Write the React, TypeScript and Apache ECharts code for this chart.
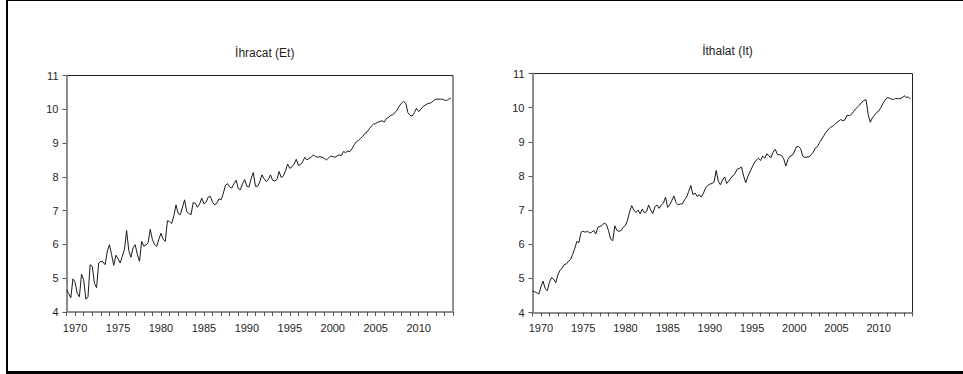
import React, { useEffect, useRef } from "react";
import * as echarts from "echarts";

// Quarterly series, 1969Q1 – 2013Q4 (log levels)
const START_YEAR = 1969;

const exportsEt = [
  4.66, 4.55, 4.42, 4.98,
  4.88, 4.55, 4.45, 5.12,
  4.95, 4.38, 4.45, 5.40,
  5.35, 4.85, 4.72, 5.45,
  5.50, 5.48, 5.40, 5.80,
  5.99, 5.70, 5.38, 5.68,
  5.58, 5.45, 5.65, 5.85,
  6.41, 5.82, 5.62, 5.90,
  5.99, 5.70, 5.50, 6.09,
  5.95, 5.98, 6.05, 6.45,
  6.15, 6.00, 5.94, 6.15,
  6.33, 6.15, 6.09, 6.70,
  6.68, 6.62, 6.85, 7.17,
  6.92, 6.88, 7.10, 7.32,
  6.97, 6.92, 6.88, 7.24,
  7.22, 7.10, 7.20, 7.37,
  7.20, 7.25, 7.40, 7.42,
  7.25, 7.17, 7.22, 7.35,
  7.32, 7.50, 7.75, 7.80,
  7.70, 7.67, 7.80, 7.90,
  7.65, 7.62, 7.80, 7.92,
  7.72, 7.70, 7.95, 8.13,
  7.72, 7.72, 7.85, 8.06,
  7.95, 7.86, 7.92, 8.06,
  7.90, 7.88, 7.92, 8.16,
  7.98, 8.03, 8.18, 8.38,
  8.25, 8.30, 8.38, 8.52,
  8.34, 8.36, 8.45, 8.58,
  8.50, 8.55, 8.58, 8.65,
  8.60, 8.58, 8.60, 8.58,
  8.55, 8.50, 8.55, 8.62,
  8.60, 8.58, 8.62, 8.65,
  8.63, 8.75, 8.72, 8.76,
  8.75, 8.84, 8.95, 9.04,
  9.08, 9.14, 9.20, 9.29,
  9.33, 9.42, 9.50, 9.56,
  9.58, 9.62, 9.64, 9.66,
  9.62, 9.73, 9.76, 9.82,
  9.84, 9.90, 9.98, 10.10,
  10.18, 10.23, 10.18, 9.90,
  9.82, 9.80, 9.90, 10.03,
  9.93, 10.00, 10.08, 10.12,
  10.16, 10.18, 10.20, 10.26,
  10.30, 10.30, 10.30, 10.30,
  10.27, 10.26, 10.30, 10.33,
];

const importsIt = [
  4.63, 4.61, 4.58, 4.54,
  4.75, 4.92, 4.70, 4.64,
  4.88, 5.02, 4.98, 4.87,
  5.10, 5.23, 5.30, 5.40,
  5.42, 5.50, 5.55, 5.70,
  5.87, 6.08, 6.05, 6.35,
  6.38, 6.35, 6.38, 6.33,
  6.35, 6.40, 6.30, 6.50,
  6.52, 6.55, 6.62, 6.58,
  6.40, 6.15, 6.10, 6.54,
  6.40, 6.38, 6.40, 6.50,
  6.55, 6.70, 6.95, 7.13,
  7.00, 6.93, 7.00, 6.89,
  7.03, 6.92, 6.95, 7.15,
  7.00, 6.90, 7.10, 7.15,
  7.05, 7.15, 7.20, 7.38,
  7.08, 7.15, 7.28, 7.41,
  7.22, 7.15, 7.18, 7.18,
  7.30, 7.38, 7.55, 7.72,
  7.45, 7.50, 7.40, 7.45,
  7.38, 7.50, 7.65, 7.72,
  7.76, 7.78, 7.82, 8.16,
  7.85, 7.74, 7.88, 7.97,
  7.78, 7.85, 7.95, 8.00,
  8.08, 8.20, 8.22, 8.26,
  8.00, 7.80, 7.98, 8.12,
  8.25, 8.38, 8.46, 8.52,
  8.45, 8.58, 8.52, 8.65,
  8.58, 8.54, 8.70, 8.78,
  8.63, 8.62, 8.60, 8.50,
  8.29, 8.48, 8.58, 8.60,
  8.70, 8.85, 8.86, 8.80,
  8.58, 8.54, 8.55, 8.56,
  8.62, 8.70, 8.82, 8.86,
  8.98, 9.08, 9.18, 9.28,
  9.35, 9.42, 9.45, 9.50,
  9.56, 9.60, 9.65, 9.62,
  9.64, 9.78, 9.76, 9.80,
  9.88, 9.96, 10.02, 10.08,
  10.16, 10.21, 10.23, 9.80,
  9.57, 9.70, 9.78, 9.86,
  9.90, 10.00, 10.12, 10.22,
  10.30, 10.28, 10.25, 10.24,
  10.27, 10.26, 10.27, 10.28,
  10.35, 10.30, 10.31, 10.26,
];

const titles = ["İhracat (Et)", "İthalat (It)"];
const yRange = { min: 4, max: 11, interval: 1 };
const xRange = { min: 1969, max: 2014, interval: 1, labelEvery: 5 };

const toPoints = (vals: number[]) =>
  vals.map((v, i) => [START_YEAR + i / 4, v]);

const FONT = "Liberation Sans, Arial, sans-serif";
const AXIS_GRAY = "#8d8d8d";
const TEXT = "#1e1e1e";

export default function App() {
  const ref = useRef<HTMLDivElement>(null);

  useEffect(() => {
    document.body.style.margin = "0";
    const chart = echarts.init(ref.current!, null, { renderer: "svg" });

    const grids = [
      { left: 66.5, top: 75.5, width: 386.5, height: 236.5 },
      { left: 532.5, top: 73.5, width: 380, height: 239 },
    ];

    const xAxis = grids.map((_, i) => ({
      type: "value",
      gridIndex: i,
      min: xRange.min,
      max: xRange.max,
      interval: xRange.interval,
      axisLine: { show: true, onZero: false, lineStyle: { color: AXIS_GRAY, width: 2 } },
      axisTick: { show: true, inside: false, length: 4, lineStyle: { color: "#555", width: 1 } },
      axisLabel: {
        margin: 10,
        color: TEXT,
        fontFamily: FONT,
        fontSize: 11,
        showMinLabel: true,
        showMaxLabel: true,
        formatter: (v: number) => (v % xRange.labelEvery === 0 ? String(v) : ""),
      },
      splitLine: { show: false },
    }));

    const yAxis = grids.map((_, i) => ({
      type: "value",
      gridIndex: i,
      min: yRange.min,
      max: yRange.max,
      interval: yRange.interval,
      axisLine: { show: true, onZero: false, lineStyle: { color: AXIS_GRAY, width: 2 } },
      axisTick: { show: true, inside: false, length: 4, lineStyle: { color: "#555", width: 1 } },
      axisLabel: { margin: 8, color: TEXT, fontFamily: FONT, fontSize: 11 },
      splitLine: { show: false },
    }));

    const series = [exportsEt, importsIt].map((vals, i) => ({
      type: "line",
      xAxisIndex: i,
      yAxisIndex: i,
      data: toPoints(vals),
      showSymbol: false,
      symbol: "none",
      lineStyle: { color: "#1a1a1a", width: 1 },
    }));

    chart.setOption({
      animation: false,
      backgroundColor: "#ffffff",
      grid: grids.map((g) => ({
        ...g,
        show: true,
        borderColor: "#222",
        borderWidth: 1,
        backgroundColor: "transparent",
        containLabel: false,
      })),
      title: titles.map((t, i) => ({
        text: t,
        left: grids[i].left + grids[i].width / 2,
        top: i === 0 ? 42 : 40,
        textAlign: "center",
        textStyle: { fontFamily: FONT, fontSize: 12, fontWeight: "normal", color: TEXT },
      })),
      xAxis,
      yAxis,
      series,
      graphic: [
        // outer frame: left, top and bottom rules
        { type: "line", shape: { x1: 7, y1: 0, x2: 7, y2: 374 }, style: { stroke: "#000", lineWidth: 2 } },
        { type: "line", shape: { x1: 6, y1: 0.5, x2: 963, y2: 0.5 }, style: { stroke: "#000", lineWidth: 1 } },
        { type: "line", shape: { x1: 6, y1: 372.5, x2: 963, y2: 372.5 }, style: { stroke: "#000", lineWidth: 3 } },
      ],
    });

    return () => chart.dispose();
  }, []);

  return <div ref={ref} style={{ width: 963, height: 374 }} />;
}
